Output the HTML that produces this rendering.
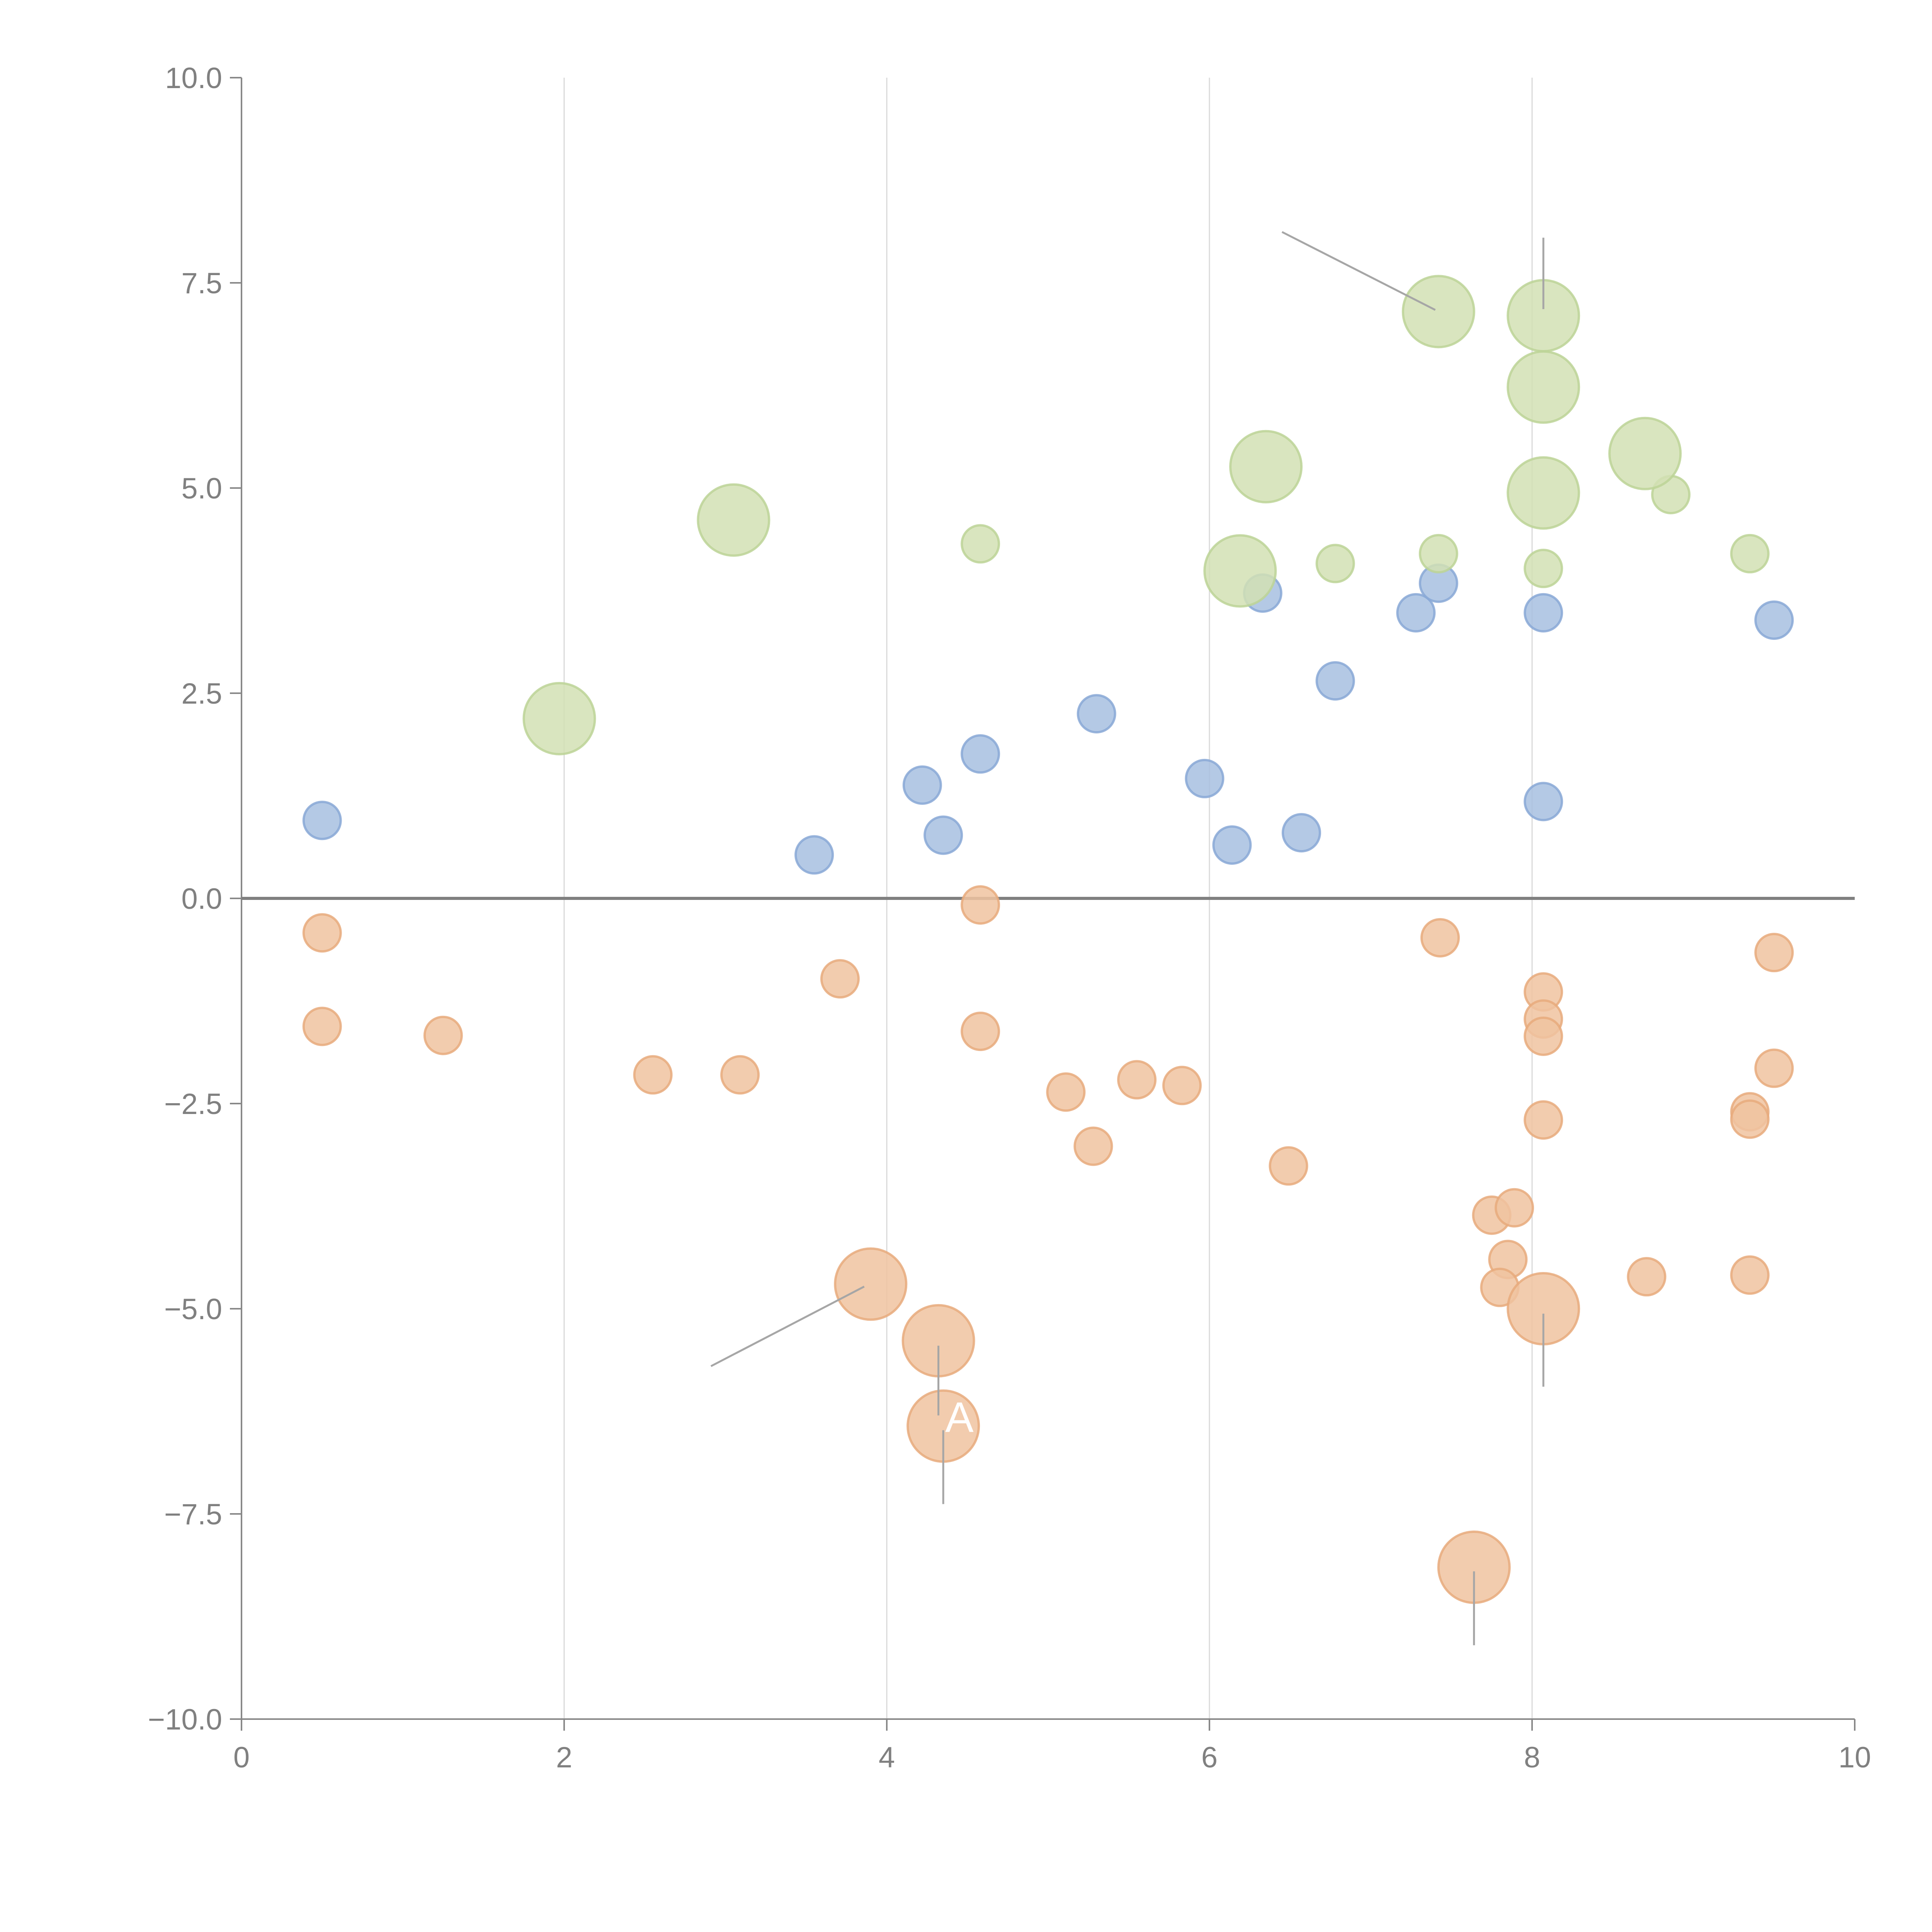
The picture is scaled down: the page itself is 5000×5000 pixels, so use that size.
<!DOCTYPE html>
<html><head><meta charset="utf-8"><style>
html,body{margin:0;padding:0;background:#fff}
svg{display:block;font-family:"Liberation Sans",sans-serif}
</style></head><body>
<svg id="chart" width="5000" height="5000" viewBox="0 0 5000 5000" xmlns="http://www.w3.org/2000/svg">
<rect width="5000" height="5000" fill="#fff"/>
<g id="grid"></g>
<g id="axes"></g>
<g id="marks"></g>
<g id="annot"></g>
</svg>
<script>
const xTicks=[0,2,4,6,8,10];
const yTicks=[-10,-7.5,-5,-2.5,0,2.5,5,7.5,10];
const blueX=[0.50,3.55,4.22,4.35,4.58,5.30,5.97,6.14,6.33,6.57,6.78,7.28,7.42,8.07,8.07,9.50];
const blueY=[0.95,0.53,1.38,0.77,1.76,2.25,1.46,0.65,3.72,0.80,2.65,3.48,3.84,3.48,1.18,3.39];
const greenSmallX=[4.58,6.78,7.42,8.07,8.86,9.35];
const greenSmallY=[4.32,4.08,4.20,4.02,4.92,4.20];
const greenLargeX=[1.97,3.05,6.19,6.35,7.42,8.07,8.07,8.70,8.07];
const greenLargeY=[2.19,4.61,3.99,5.26,7.15,7.10,6.23,5.42,4.94];
const orangeSmallX=[0.5,0.5,1.25,2.55,3.09,3.71,4.58,4.58,5.11,5.55,5.83,5.28,6.49,7.43,8.07,8.07,8.07,8.07,7.75,7.89,7.85,7.80,8.71,9.35,9.35,9.35,9.50,9.50];
const orangeSmallY=[-0.42,-1.56,-1.67,-2.15,-2.15,-0.98,-0.08,-1.62,-2.36,-2.21,-2.28,-3.02,-3.26,-0.48,-1.14,-1.47,-1.68,-2.70,-3.86,-3.77,-4.40,-4.74,-4.61,-4.59,-2.60,-2.69,-0.66,-2.07];
const orangeLargeX=[3.90,4.32,4.35,8.07,7.64];
const orangeLargeY=[-4.70,-5.39,-6.43,-5.00,-8.15];

const X0=625,X1=4800,Y0=4449,Y1=201;
function sx(v){return X0+(v-0)/(10-0)*(X1-X0);}
function sy(v){return Y0-(v+10)/20*(Y0-Y1);}
const NS="http://www.w3.org/2000/svg";
function mk(tag,attrs,parent){const e=document.createElementNS(NS,tag);for(const k in attrs)e.setAttribute(k,attrs[k]);parent.appendChild(e);return e;}
const grid=document.getElementById('grid'),axes=document.getElementById('axes'),marks=document.getElementById('marks'),annot=document.getElementById('annot');

xTicks.forEach(t=>{
  if(t>0&&t<10){const l=mk('line',{x1:sx(t),x2:sx(t),y1:Y1,y2:Y0,stroke:'#d9d9d9','stroke-width':3},grid);
  
  }
  const tk=mk('line',{x1:sx(t),x2:sx(t),y1:Y0,y2:Y0+30,stroke:'#888','stroke-width':4},axes);
  
  
  const tx=mk('text',{x:sx(t),y:Y0+125,'text-anchor':'middle','font-size':76,fill:'#808080'},axes);
  tx.textContent=String(t);
  
  
});
yTicks.forEach(t=>{
  const tk=mk('line',{x1:X0-30,x2:X0,y1:sy(t),y2:sy(t),stroke:'#888','stroke-width':4},axes);
  
  
  const tx=mk('text',{x:X0-50,y:sy(t)+27,'text-anchor':'end','font-size':76,fill:'#808080'},axes);
  tx.textContent=(t<0?'\u2212':'')+Math.abs(t).toFixed(1);
  
  
});
const ya=mk('line',{x1:X0,x2:X0,y1:Y1,y2:Y0,stroke:'#888','stroke-width':4},axes);


const xa=mk('line',{x1:X0,x2:X1,y1:Y0,y2:Y0,stroke:'#888','stroke-width':4},axes);


const zl=mk('line',{x1:X0,x2:X1,y1:sy(0),y2:sy(0),stroke:'#808080','stroke-width':8},axes);



function drawSeries(xs,ys,r,fill,stroke,name){
  xs.forEach((x,i)=>{
    const c=mk('circle',{cx:sx(x),cy:sy(ys[i]),r:r,fill:fill,'fill-opacity':0.85,stroke:stroke,'stroke-width':6,'stroke-opacity':0.85},marks);
    
    
  });
}
drawSeries(blueX,blueY,48,'#a7bfe0','#88a8d6','blue-bubble');
drawSeries(greenSmallX,greenSmallY,48,'#d2e0b4','#bcd496','green-bubble');
drawSeries(greenLargeX,greenLargeY,92,'#d2e0b4','#bcd496','green-large-bubble');
drawSeries(orangeSmallX,orangeSmallY,48,'#f0c3a0','#e8aa7c','orange-bubble');
drawSeries(orangeLargeX,orangeLargeY,92,'#f0c3a0','#e8aa7c','orange-large-bubble');

const lx1=[6.45,8.07,2.91,4.32,4.35,8.07,7.64];
const ly1=[8.12,8.05,-5.70,-5.45,-6.48,-5.06,-8.20];
const lx2=[7.40,8.07,3.86,4.32,4.35,8.07,7.64];
const ly2=[7.17,7.18,-4.73,-6.30,-7.38,-5.95,-9.10];
lx1.forEach((v,i)=>{
  const l=mk('line',{x1:sx(v),y1:sy(ly1[i]),x2:sx(lx2[i]),y2:sy(ly2[i]),stroke:'#a6a6a6','stroke-width':5},annot);
  
  
});
const a=mk('text',{x:sx(4.45),y:sy(-6.5),'text-anchor':'middle','font-size':110,fill:'#fff'},annot);
a.textContent='A';


</script>
</body></html>
